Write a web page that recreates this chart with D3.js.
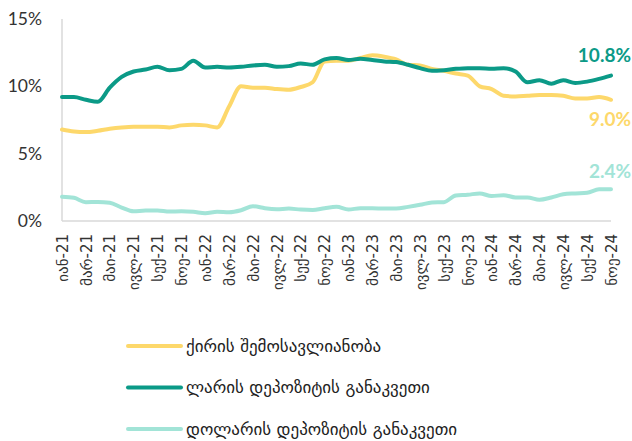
<!DOCTYPE html>
<html>
<head>
<meta charset="utf-8">
<script src="https://cdn.jsdelivr.net/npm/d3@7"></script>
<style>
  body { margin: 0; background: #fff; }
  svg text { font-family: "DejaVu Sans", sans-serif; }
</style>
</head>
<body>
<div id="chart"></div>
<script>
// monthly, Jan-21 .. Nov-24
const monthNames = ["იან", "თებ", "მარ", "აპრ", "მაი", "ივნ", "ივლ", "აგვ", "სექ", "ოქტ", "ნოე", "დეკ"];
const months = [];
for (let y = 21; y <= 24; y++) {
    for (let m = 0; m < 12; m++) {
        if (y == 24 && m > 10) break;
        months.push(monthNames[m] + "-" + y);
    }
}

const rentYield = [6.8, 6.65, 6.6, 6.7, 6.85, 6.95, 7.0, 7.0, 7.0, 6.95, 7.1, 7.15, 7.1, 6.95,
    8.5, 10.0, 9.9, 9.9, 9.8, 9.75, 9.95, 10.3, 11.85, 11.9, 11.9, 12.1, 12.3, 12.2, 12.0,
    11.6, 11.55, 11.3, 11.15, 10.95, 10.8, 10.0, 9.8, 9.3, 9.25, 9.3, 9.35, 9.35, 9.3, 9.1,
    9.1, 9.2, 9.0];

const gelDeposit = [9.2, 9.2, 9.0, 8.85, 9.9, 10.7, 11.1, 11.25, 11.45, 11.2, 11.3, 11.9,
    11.4, 11.45, 11.4, 11.45, 11.55, 11.6, 11.45, 11.5, 11.7, 11.6, 12.0, 12.1, 11.95, 12.05,
    11.95, 11.85, 11.8, 11.6, 11.35, 11.15, 11.2, 11.3, 11.35, 11.35, 11.3, 11.35, 11.1,
    10.3, 10.45, 10.2, 10.45, 10.25, 10.35, 10.55, 10.8];

const usdDeposit = [1.8, 1.72, 1.4, 1.42, 1.35, 1.0, 0.72, 0.78, 0.78, 0.7, 0.72, 0.68,
    0.58, 0.68, 0.65, 0.8, 1.1, 0.95, 0.88, 0.92, 0.85, 0.82, 0.95, 1.05, 0.85, 0.95, 0.95,
    0.92, 0.92, 1.05, 1.2, 1.38, 1.4, 1.9, 1.95, 2.05, 1.85, 1.92, 1.75, 1.75, 1.58, 1.75,
    1.98, 2.05, 2.1, 2.35, 2.35];

const seriesNames = ["ქირის შემოსავლიანობა", "ლარის დეპოზიტის განაკვეთი", "დოლარის დეპოზიტის განაკვეთი"];
const endLabels = ["9.0%", "10.8%", "2.4%"];
const yTicks = [0, 5, 10, 15];

const series = [
    { name: seriesNames[0], values: rentYield, color: "#fdd86b", label: endLabels[0] },
    { name: seriesNames[1], values: gelDeposit, color: "#0b9a87", label: endLabels[1] },
    { name: seriesNames[2], values: usdDeposit, color: "#a2e4d7", label: endLabels[2] }
];

const W = 632, H = 441;
const margin = { top: 19, left: 62, right: 21, bottom: 220 };
const width = W - margin.left - margin.right,
    height = H - margin.top - margin.bottom;

let svg = d3.select("#chart")
    .append("svg")
    .attr("width", W)
    .attr("height", H);

let plot = svg.append("g")
    .attr("transform", "translate(" + margin.left + "," + margin.top + ")");

const xScale = d3.scalePoint()
    .domain(months)
    .range([0, width]);

const yScale = d3.scaleLinear()
    .domain([0, 15])
    .range([height, 0]);

// axes lines
plot.append("line")
    .attr("x1", 0).attr("x2", 0)
    .attr("y1", 0).attr("y2", height)
    .attr("stroke", "#d9d9d9").attr("stroke-width", 1.5);
plot.append("line")
    .attr("x1", 0).attr("x2", width)
    .attr("y1", height).attr("y2", height)
    .attr("stroke", "#d9d9d9").attr("stroke-width", 1.5);

// y labels
plot.append("g")
    .selectAll("text")
    .data(yTicks)
    .enter()
    .append("text")
    .attr("x", -20)
    .attr("y", d => yScale(d))
    .attr("dy", "0.35em")
    .attr("text-anchor", "end")
    .attr("fill", "#333")
    .attr("font-size", "17.5px")
    .style("font-family", "Lato, sans-serif")
    .text(d => d + "%");

// x labels, every 2nd month
const xAxis = d3.axisBottom(xScale)
    .tickValues(months.filter((d, i) => i % 2 == 0))
    .tickSize(0);

let xg = plot.append("g")
    .attr("transform", `translate(0, ${height})`)
    .call(xAxis);
xg.select(".domain").remove();
xg.selectAll("text")
    .attr("transform", "rotate(-90)")
    .attr("text-anchor", "end")
    .attr("x", -13)
    .attr("y", 0)
    .attr("dy", "0.35em")
    .attr("fill", "#333")
    .attr("font-size", "15px")
    .style("font-family", "DejaVu Sans, sans-serif");

// lines
const line = d3.line()
    .x((d, i) => xScale(months[i]))
    .y(d => yScale(d))
    .curve(d3.curveMonotoneX);

// draw order: usd, rent, gel
for (let s of [series[2], series[0], series[1]]) {
    plot.append("path")
        .datum(s.values)
        .attr("fill", "none")
        .attr("stroke", s.color)
        .attr("stroke-width", 4)
        .attr("stroke-linejoin", "round")
        .attr("stroke-linecap", "round")
        .attr("d", line);
}

// end labels
const labelOffsets = [20, -20, -18];
series.forEach((s, k) => {
    const last = s.values[s.values.length - 1];
    plot.append("text")
        .attr("x", width + 20)
        .attr("y", yScale(last) + labelOffsets[k])
        .attr("dy", "0.35em")
        .attr("text-anchor", "end")
        .attr("fill", s.color)
        .attr("font-size", "19px")
        .attr("font-weight", "bold")
        .style("font-family", "Lato, sans-serif")
        .text(s.label);
});

// legend
let legend = svg.append("g")
    .attr("transform", "translate(128, 346)");

series.forEach((s, k) => {
    let row = legend.append("g")
        .attr("transform", `translate(0, ${k * 41.5})`);
    row.append("line")
        .attr("x1", 0).attr("x2", 53)
        .attr("y1", 0).attr("y2", 0)
        .attr("stroke", s.color)
        .attr("stroke-width", 4)
        .attr("stroke-linecap", "round");
    row.append("text")
        .attr("x", 58)
        .attr("y", 0)
        .attr("dy", "0.35em")
        .attr("fill", "#222")
        .attr("font-size", "17px")
        .text(s.name);
});
</script>
</body>
</html>
